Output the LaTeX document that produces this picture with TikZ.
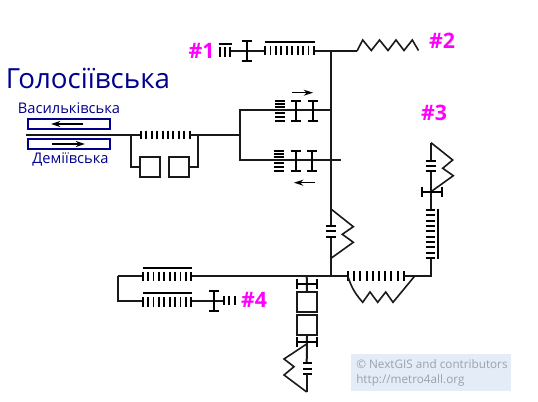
\documentclass[tikz,border=0pt]{standalone}
\usepackage{fontspec}
\setmainfont{Open Sans}
\usetikzlibrary{arrows.meta,calc}
\definecolor{stationblue}{HTML}{00008B}
\definecolor{markpink}{HTML}{FF00FF}
\definecolor{creditbg}{HTML}{E3ECF7}
\definecolor{creditfg}{HTML}{9AA3AC}
\tikzset{
  wall/.style={line width=1.5pt,black!90},
  tick/.style={line width=1.4pt,black},
  roomsq/.style={draw,line width=1.5pt,minimum size=15pt,inner sep=0pt,black!90},
  pitbox/.style={draw=stationblue,line width=1.25pt},
  dirarrow/.style={line width=1.1pt,-{Stealth[length=7pt,width=4.5pt]}},
  mark1/.style={text=markpink,font=\bfseries\fontsize{16}{18}\selectfont,inner sep=0pt},
  linelabel/.style={text=stationblue,font=\fontsize{11}{13}\selectfont,inner sep=0pt},
}
% turnstile with end caps, upright
\newcommand{\gatev}[2]{\draw[tick] (#1,#2-10) -- (#1,#2+10) (#1-5,#2-10) -- (#1+5,#2-10) (#1-5,#2+10) -- (#1+5,#2+10);}
\newcommand{\gateh}[2]{\draw[tick] (#1-10,#2) -- (#1+10,#2) (#1-10,#2-5) -- (#1-10,#2+5) (#1+10,#2-5) -- (#1+10,#2+5);}
\begin{document}
\begin{tikzpicture}[x=0.75pt,y=-0.75pt]
  \useasboundingbox (0,0) rectangle (538,402);

  % labels
  \node[text=stationblue,font=\fontsize{20.8}{24}\selectfont,inner sep=0pt] (station) at (88,78) {Голосіївська};
  \node[linelabel] (lineup) at (69,108.5) {Васильківська};
  \node[linelabel] (linedown) at (70.5,159.5) {Деміївська};
  \node[mark1] (m1) at (201.5,51) {\#1};
  \node[mark1] (m2) at (442,41) {\#2};
  \node[mark1] (m3) at (434,113) {\#3};
  \node[mark1] (m4) at (254,300) {\#4};

  % platforms
  \draw[pitbox] (28,119.3) rectangle (110,129.3);
  \draw[pitbox] (28,139) rectangle (110,149.3);
  \draw[dirarrow] (83,124) -- (51,124);
  \draw[dirarrow] (52,144) -- (85,144);

  % entrance and double room
  \draw[line width=1.9pt,black!90] (26,135) -- (131,135);
  \draw[wall] (131,135) -- (141,135);
  \foreach \x in {141,146.4,...,191}
    \draw[tick] (\x,130.7) -- (\x,139);
  \node[roomsq] (sqa) at (150,167) {};
  \node[roomsq] (sqb) at (179,167) {};
  \coordinate (forka) at (131,135);
  \coordinate (forkb) at (198,135);
  \draw[wall] (forka) |- (sqa.west);
  \draw[wall] (sqb.east) -| (forkb);
  \coordinate (hallw) at (239.7,135);
  \draw[wall] (190,135) -- (hallw);
  \coordinate (spine) at (331,110);
  \coordinate (spineb) at (341,160);
  \draw[wall] (spine) -- (239.7,110) -- (239.7,160) -- (spineb);

  % upper gates
  \foreach \y in {100.7,104,107.3,113.3,117.3,121.3}
    \draw[tick] (275,\y) -- (285,\y);
  \gatev{296}{111}
  \gatev{312.7}{111}
  \draw[dirarrow] (292,92.7) -- (313,92.7);

  % lower gates
  \foreach \y in {150.7,154,157.3,163.3,167.3,171}
    \draw[tick] (274,\y) -- (284,\y);
  \gatev{295.7}{161}
  \gatev{312.3}{161}
  \draw[dirarrow] (315,182.7) -- (294,182.7);

  % main vertical, top exit
  \draw[wall] (331,51) -- (331,225);
  \draw[wall] (331,237) -- (331,275.7);
  \draw[wall] (231,51) -- (265,51);
  \draw[wall] (314,51) -- (357,51);
  \draw[tick] (218.7,44) -- (231.7,44);
  \foreach \x in {220,225,230}
    \draw[tick] (\x,47) -- (\x,57);
  \gatev{246.7}{51}
  \draw[tick] (264.5,42) -- (314.5,42);
  \foreach \x in {265,270.44,...,314.5}
    \draw[tick] (\x,46) -- (\x,55);
  \draw[line width=1.2pt,black!90] (357,51) -- (362.7,40) -- (371.3,50.5) -- (379.5,40) -- (388,50.5) -- (396,40) -- (404,50.5) -- (412.3,40) -- (418.5,50.5);

  % escalator on the vertical
  \draw[wall,line width=1.2pt] (331,209) -- (353.3,226.7) -- (342.3,234.3) -- (353.3,242.3) -- (331,258.3);
  \foreach \y in {225.7,231,236.7}
    \draw[tick] (326,\y) -- (336,\y);

  % lower level, right
  \draw[wall] (117.7,275.7) -- (142.7,275.7);
  \draw[wall] (191.7,275.7) -- (348,275.7);
  \foreach \x in {348,354.2,...,404.5}
    \draw[tick] (\x,271) -- (\x,280.5);
  \draw[wall] (404,275.7) -- (431,275.7) -- (431,259);
  \draw[line width=1.2pt,black!90] (347.7,275.7) to[bend right=12] (362.7,302.3) -- (370,292) -- (377.7,302.3) -- (385.7,292) -- (393,302.3) -- (415,275.7);
  \foreach \y in {210,215.33,...,259}
    \draw[tick] (426,\y) -- (435,\y);
  \draw[tick] (438.3,209) -- (438.3,259);
  \draw[wall] (431,209) -- (431,172);
  \draw[wall] (431,160) -- (431,142.7);
  \draw[line width=1.2pt,black!90] (431,142.7) -- (452.7,160) -- (442.7,168.3) -- (453.3,175.7) -- (431,191.7);
  \foreach \y in {161,166,171}
    \draw[tick] (426,\y) -- (436,\y);
  \gateh{431.7}{191.7}

  % lower level, left
  \draw[wall] (117.7,275.7) -- (117.7,300.7) -- (142.7,300.7);
  \draw[tick] (142.7,267.7) -- (192,267.7);
  \foreach \x in {142.7,148.1,...,192}
    \draw[tick] (\x,272) -- (\x,281);
  \draw[tick] (142.7,293.3) -- (192,293.3);
  \foreach \x in {142.7,148.1,...,192}
    \draw[tick] (\x,297) -- (\x,307);
  \draw[wall] (192,300.7) -- (224,300.7);
  \gatev{214}{300.7}
  \foreach \x in {224,229.3,235}
    \draw[tick] (\x,296) -- (\x,305);

  % lower exit
  \node[roomsq] (sqc) at (307,302) {};
  \node[roomsq] (sqd) at (307,325) {};
  \draw[wall] (306.7,275.7) -- (sqc.north);
  \draw[wall] (sqd.south) -- (306.7,363);
  \gateh{306.7}{284}
  \gateh{306.7}{341.7}
  \draw[line width=1.2pt,black!90] (306.7,344) -- (284,359) -- (294,366.7) -- (284,375) -- (306.7,392);
  \foreach \y in {363,368.7,373.7}
    \draw[tick] (303,\y) -- (311.7,\y);
  \draw[wall] (306.7,374) -- (306.7,392);

  % credits
  \fill[creditbg] (351,354.3) rectangle (510.7,390.7);
  \node[anchor=west,text=creditfg,font=\fontsize{8.8}{10}\selectfont,inner sep=0pt] (credita) at (356,364) {© NextGIS and contributors};
  \node[anchor=west,text=creditfg,font=\fontsize{8.8}{10}\selectfont,inner sep=0pt] (creditb) at (356,380) {http://metro4all.org};
\end{tikzpicture}
\end{document}
